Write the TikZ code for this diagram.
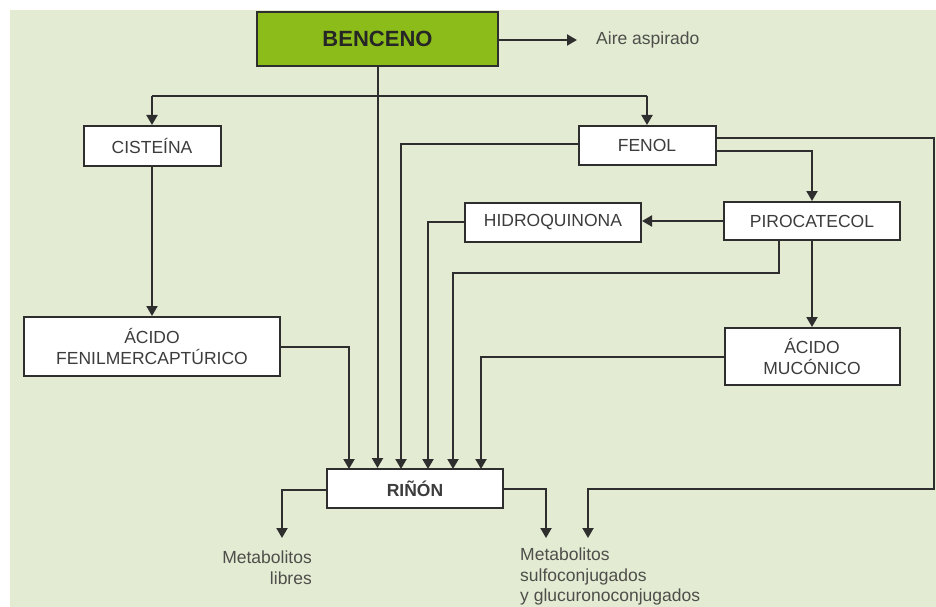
\documentclass[tikz,border=0pt]{standalone}
\usepackage{fontspec}
\setmainfont{Liberation Sans}
\usetikzlibrary{arrows.meta}
\definecolor{bgc}{HTML}{E3ECD3}
\definecolor{grn}{HTML}{8CBC1A}
\definecolor{ln}{HTML}{2E2E2E}
\definecolor{txt}{HTML}{3C3C3C}
\definecolor{lbl}{HTML}{4E4E4A}
\tikzset{
  box/.style={draw=ln, line width=2pt, fill=white, inner sep=0pt, text=txt,
    font=\fontsize{17.5}{20.5}\selectfont, align=center},
  conn/.style={draw=ln, line width=2pt},
  arr/.style={conn, -{Triangle[width=11pt,length=10pt]}},
  lab/.style={inner sep=0pt, text=lbl, font=\fontsize{17.5}{20.5}\selectfont}
}
\begin{document}
\begin{tikzpicture}[x=1pt,y=-1pt]
\useasboundingbox (0,0) rectangle (936,607);
\fill[white] (0,0) rectangle (936,607);
\fill[bgc] (10,10) rectangle (936,607);

% nodes
\node[box, fill=grn, minimum width=241pt, minimum height=54pt, text=black!85,
  font=\fontsize{22}{26}\selectfont\bfseries] (benceno) at (377.5,39) {BENCENO};
\node[lab, anchor=west] (aire) at (596,40) {Aire aspirado};
\node[box, minimum width=137pt, minimum height=40pt] (cist) at (152,146) {CISTEÍNA};
\node[box, minimum width=137pt, minimum height=39pt] (fenol) at (647,145.5) {FENOL};
\node[box, minimum width=176pt, minimum height=39pt] (hidro) at (553,222) {HIDROQUINONA};
\node[box, minimum width=176pt, minimum height=38pt] (piro) at (812,221) {PIROCATECOL};
\node[box, minimum width=175pt, minimum height=57pt] (muco) at (812,356.5) {ÁCIDO\\MUCÓNICO};
\node[box, minimum width=256pt, minimum height=59pt] (afm) at (152,346.5) {ÁCIDO\\FENILMERCAPTÚRICO};
\node[box, minimum width=176pt, minimum height=39pt,
  font=\fontsize{17.5}{20.5}\selectfont\bfseries] (rinon) at (415,488.5) {RIÑÓN};
\node[lab, anchor=north east, align=right] (libres) at (312,551) {Metabolitos\\libres};
\node[lab, anchor=north west, align=left] (sulfo) at (520,548) {Metabolitos\\sulfoconjugados\\y glucuronoconjugados};

% helper coordinates
\coordinate (airend) at (577,40);
\coordinate (split) at (377.5,96);
\coordinate (in1) at (349,469);
\coordinate (in3) at (401,469);
\coordinate (in4) at (428,469);
\coordinate (in5) at (453,469);
\coordinate (in6) at (481,469);
\coordinate (libarr) at (282,538);
\coordinate (sularr) at (546,538);
\coordinate (fenarr) at (588,538);
\coordinate (fencorner) at (934,489);

% connectors
\draw[arr] (benceno.east |- airend) -- (airend);
\draw[arr] (benceno.south) -- (benceno.south |- rinon.north);
\draw[conn] (cist.north |- split) -- (fenol.north |- split);
\draw[arr] (cist.north |- split) -- (cist.north);
\draw[arr] (fenol.north |- split) -- (fenol.north);
\draw[arr] (cist.south) -- (afm.north);
\draw[arr] (afm.east) -| (in1);
\draw[arr] ([yshift=1.5pt]fenol.west) -| (in3);
\draw[arr] ([yshift=7.5pt]fenol.east) -| (fencorner) -| (fenarr);
\draw[arr] ([yshift=-5.5pt]fenol.east) -| (piro.north);
\draw[arr] (piro.west) -- (hidro.east |- piro.west);
\draw[arr] (hidro.west) -| (in4);
\draw[arr] ([xshift=-33pt]piro.south) -- ++(0,32) -| (in5);
\draw[arr] (piro.south) -- (muco.north);
\draw[arr] (muco.west) -| (in6);
\draw[arr] ([yshift=-1.5pt]rinon.west) -| (libarr);
\draw[arr] (rinon.east) -| (sularr);
\end{tikzpicture}
\end{document}
